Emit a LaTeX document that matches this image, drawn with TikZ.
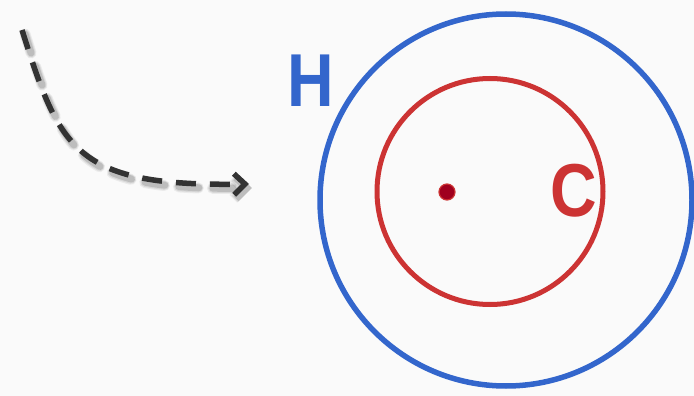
\documentclass[tikz,border=0pt]{standalone}
\usepackage{fontspec}
\setmainfont{Liberation Sans}
\usetikzlibrary{arrows.meta}
\definecolor{bg}{HTML}{FAFAFA}
\definecolor{hblue}{HTML}{3366CC}
\definecolor{cred}{HTML}{CC3333}
\definecolor{dotred}{HTML}{A0001E}
\definecolor{ink}{HTML}{333333}
\tikzset{
  ring/.style={circle, draw, inner sep=0pt, fill=none},
  letter/.style={font=\bfseries\fontsize{75}{75}\selectfont, inner sep=0pt, xscale=0.86},
  dasharrow/.style={line width=5.5pt, dash pattern=on 20pt off 14pt, -{Straight Barb[length=11pt,width=21pt]}},
}
\begin{document}
\begin{tikzpicture}[x=1pt,y=-1pt]
\fill[bg] (0,0) rectangle (694,396);
\useasboundingbox (0,0) rectangle (694,396);
% circles
\node[ring, draw=hblue, line width=5.5pt, minimum size=372pt] (H) at (506,200) {};
\node[ring, draw=cred, line width=5pt, minimum size=226pt] (C) at (490,191.5) {};
\node[circle, fill=dotred, draw=cred, line width=1.2pt, inner sep=0pt, minimum size=16pt] (dot) at (447,192) {};
% labels
\node[letter, text=hblue] (Hl) at (311,81) {H};
\node[letter, text=cred] (Cl) at (574,191) {C};
% dashed arrow with soft shadow
\coordinate (s) at (22,30);
\coordinate (e) at (249,184);
\foreach \w/\o in {11/0.06,9/0.08,7/0.12}{
  \draw[line width=\w pt, draw=black, opacity=\o, dash pattern=on 20pt off 14pt, line cap=round, -{Straight Barb[length=11pt,width=21pt]}]
    ([shift={(3,4)}]s) .. controls ([shift={(3,4)}]60,150) and ([shift={(3,4)}]75,187) .. ([shift={(3,4)}]e);
}
\draw[dasharrow, draw=ink] (s) .. controls (60,150) and (75,187) .. (e);
\end{tikzpicture}
\end{document}
